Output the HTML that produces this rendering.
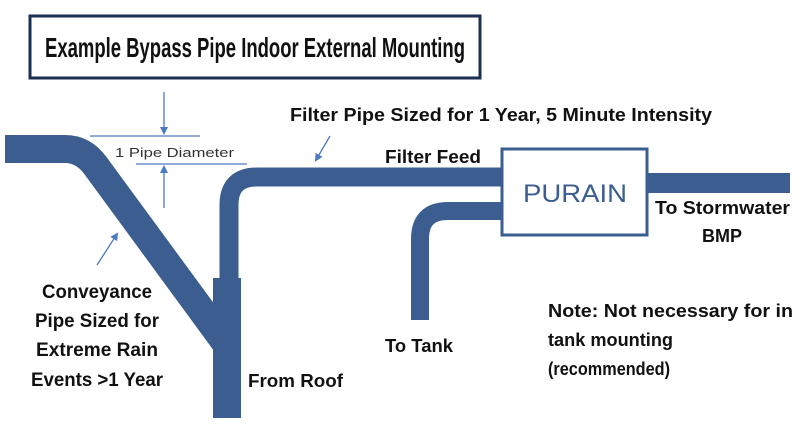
<!DOCTYPE html>
<html><head><style>html,body{margin:0;padding:0;background:#fff}svg{display:block}</style></head>
<body>
<svg width="800" height="440" viewBox="0 0 800 440" xmlns="http://www.w3.org/2000/svg" font-family="Liberation Sans, sans-serif">
<defs><marker id="ah" markerWidth="8" markerHeight="8" refX="6" refY="4" orient="auto" markerUnits="userSpaceOnUse"><path d="M0,0 L8,4 L0,8 z" fill="#4a7bbf"/></marker></defs>
<rect x="30" y="16" width="450" height="62" fill="#fff" stroke="#1c2f52" stroke-width="3"/>
<text x="255" y="57" font-size="28" font-weight="bold" text-anchor="middle" textLength="420" lengthAdjust="spacingAndGlyphs" fill="#111">Example Bypass Pipe Indoor External Mounting</text>
<g fill="none" stroke="#3b5d8f">
<path d="M5,149 L65,149 Q83,149 95,165 L227,345" stroke-width="28"/>
<path d="M229,290 L229,205 Q229,177 257,177 L502,177" stroke-width="19"/>
<path d="M501,211 L448,211 Q420,211 420,239 L420,320" stroke-width="18"/>
</g>
<rect x="213" y="278" width="28" height="140" fill="#3b5d8f"/>
<rect x="648" y="173" width="142" height="20" fill="#3b5d8f"/>
<rect x="502" y="149" width="145" height="86" fill="#fff" stroke="#3b5d8f" stroke-width="3"/>
<text x="575" y="202" font-size="25" text-anchor="middle" fill="#3b5d8f" textLength="104" lengthAdjust="spacingAndGlyphs">PURAIN</text>
<g stroke="#4a7bbf" stroke-width="1.3">
<line x1="90" y1="136" x2="200" y2="136"/>
<line x1="136" y1="164" x2="247" y2="164"/>
<line x1="164" y1="92" x2="164" y2="133" marker-end="url(#ah)"/>
<line x1="164" y1="208" x2="164" y2="167" marker-end="url(#ah)"/>
<line x1="330" y1="136" x2="316" y2="160" marker-end="url(#ah)"/>
<line x1="97" y1="265" x2="117" y2="234" marker-end="url(#ah)"/>
</g>
<g fill="#111" font-weight="bold">
<text x="115" y="157" font-size="13" font-weight="normal" fill="#333" textLength="119" lengthAdjust="spacingAndGlyphs">1 Pipe Diameter</text>
<text x="290" y="121" font-size="18" textLength="422" lengthAdjust="spacingAndGlyphs">Filter Pipe Sized for 1 Year, 5 Minute Intensity</text>
<text x="385" y="163" font-size="18" textLength="96" lengthAdjust="spacingAndGlyphs">Filter Feed</text>
<text x="655" y="214" font-size="18" textLength="135" lengthAdjust="spacingAndGlyphs">To Stormwater</text>
<text x="722" y="242" font-size="18" text-anchor="middle">BMP</text>
<text x="548" y="317" font-size="18" textLength="245" lengthAdjust="spacingAndGlyphs">Note:  Not necessary for in</text>
<text x="548" y="346" font-size="18" textLength="125" lengthAdjust="spacingAndGlyphs">tank mounting</text>
<text x="548" y="375" font-size="18" textLength="122" lengthAdjust="spacingAndGlyphs">(recommended)</text>
<text x="385" y="352" font-size="18" textLength="68" lengthAdjust="spacingAndGlyphs">To Tank</text>
<text x="248" y="387" font-size="18" textLength="95" lengthAdjust="spacingAndGlyphs">From Roof</text>
<g font-size="19">
<text x="42" y="298" textLength="110" lengthAdjust="spacingAndGlyphs">Conveyance</text>
<text x="35" y="327" textLength="124" lengthAdjust="spacingAndGlyphs">Pipe Sized for</text>
<text x="36" y="356" textLength="122" lengthAdjust="spacingAndGlyphs">Extreme Rain</text>
<text x="31" y="386" textLength="132" lengthAdjust="spacingAndGlyphs">Events &gt;1 Year</text>
</g>
</g>
</svg>
</body></html>
